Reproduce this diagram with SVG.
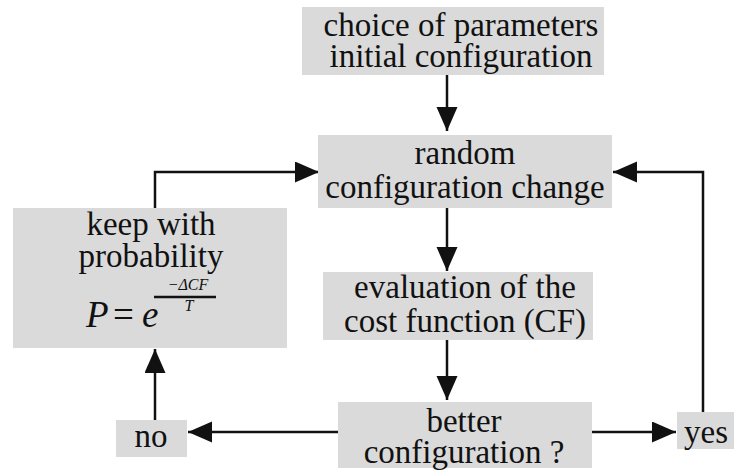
<svg xmlns="http://www.w3.org/2000/svg" width="734" height="471" viewBox="0 0 734 471">
<defs>
<style>
.box{fill:#dadada;}
.t{font-size:33px;fill:#111;text-anchor:middle;}
.c{fill:none;stroke:#111;stroke-width:2.5;marker-end:url(#ah);}
.m{font-style:italic;fill:#111;}
</style>
<marker id="ah" markerUnits="userSpaceOnUse" markerWidth="26" markerHeight="22" refX="24" refY="10.5" orient="auto">
<path d="M0,0 L24,10.5 L0,21 z" fill="#111"/>
</marker>
</defs>
<rect width="734" height="471" fill="#fff"/>
<g id="connectors">
<path class="c" d="M447,75 V131"/>
<path class="c" d="M447,208 V271"/>
<path class="c" d="M447,340 V400"/>
<path class="c" d="M338,432 H188"/>
<path class="c" d="M592,432 H676"/>
<path class="c" d="M155,420 V349"/>
<path class="c" d="M155,208 V172 H319"/>
<path class="c" d="M703,412 V172 H613"/>
</g>
<g font-family="Liberation Serif, Times New Roman, serif">
<g id="n_start">
<rect class="box" x="302" y="7" width="302" height="68"/>
<text class="t" x="461" y="36">choice of parameters</text>
<text class="t" x="461" y="67">initial configuration</text>
</g>
<g id="n_random">
<rect class="box" x="318" y="135" width="294" height="73"/>
<text class="t" x="465" y="164">random</text>
<text class="t" x="465" y="198">configuration change</text>
</g>
<g id="n_eval">
<rect class="box" x="323" y="272" width="270" height="68"/>
<text class="t" x="465" y="298">evaluation of the</text>
<text class="t" x="465" y="332">cost function (CF)</text>
</g>
<g id="n_better">
<rect class="box" x="338" y="402" width="254" height="66"/>
<text class="t" x="464" y="432">better</text>
<text class="t" x="464" y="463">configuration ?</text>
</g>
<g id="n_no">
<rect class="box" x="116" y="420" width="71" height="37"/>
<text class="t" x="151" y="447">no</text>
</g>
<g id="n_yes">
<rect class="box" x="677" y="412" width="57" height="37"/>
<text class="t" x="706" y="443">yes</text>
</g>
<g id="n_keep">
<rect class="box" x="13" y="208" width="274" height="140"/>
<text class="t" x="151" y="235">keep with</text>
<text class="t" x="151" y="267">probability</text>
<text class="m" x="86" y="327" font-size="37">P</text>
<text x="113" y="327" font-size="37" fill="#111">=</text>
<text class="m" x="142" y="327" font-size="37">e</text>
<text class="m" x="188" y="290" font-size="16" text-anchor="middle">−ΔCF</text>
<line x1="154" y1="297" x2="216" y2="297" stroke="#111" stroke-width="2.5"/>
<text class="m" x="189" y="311" font-size="16" text-anchor="middle">T</text>
</g>
</g>
</svg>
